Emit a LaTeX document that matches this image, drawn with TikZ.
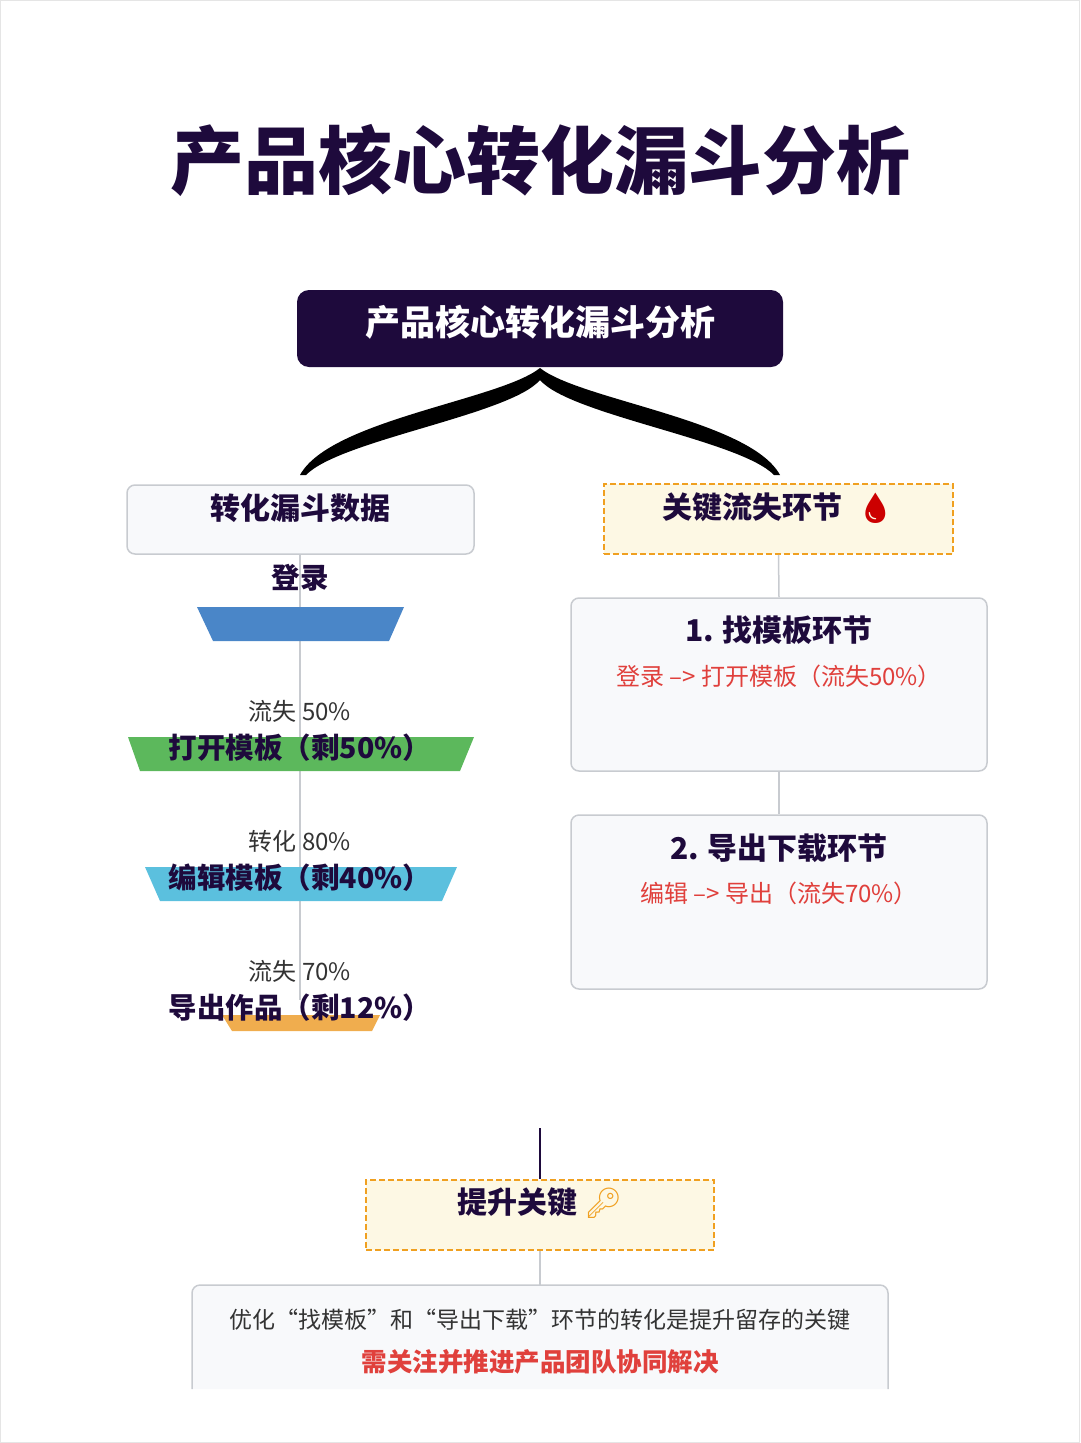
\documentclass[tikz,border=0pt]{standalone}
\usepackage{fontspec}
\setmainfont{Noto Sans CJK SC}
\newfontfamily\emj{Noto Emoji}
\definecolor{navy}{HTML}{1E0A3C}
\definecolor{boxfill}{HTML}{F8F9FB}
\definecolor{boxline}{HTML}{C8CBD0}
\definecolor{yel}{HTML}{FDF8E4}
\definecolor{org}{HTML}{F0A020}
\definecolor{redt}{HTML}{E0403C}
\definecolor{txt}{HTML}{333333}
\tikzset{
 gbox/.style={draw=boxline,line width=1.5pt,fill=boxfill,rounded corners=8pt},
 ybox/.style={draw=org,line width=1.5pt,dash pattern=on 6pt off 3pt,fill=yel},
 gline/.style={draw=boxline,line width=1.5pt},
 lbl/.style={font=\fontsize{24}{28}\selectfont,text=txt},
 stg/.style={font=\fontsize{28.5}{34}\selectfont\bfseries,text=navy},
 hd/.style={font=\fontsize{30}{34}\selectfont\bfseries,text=navy},
}
\begin{document}
\begin{tikzpicture}[x=1pt,y=-1pt]
\useasboundingbox (0,0) rectangle (1080,1443);
\draw[draw=black!10] (0.5,0.5) rectangle (1079.5,1442.5);
\node[font=\fontsize{74}{80}\selectfont\bfseries,text=navy] (title) at (540,160) {产品核心转化漏斗分析};
\node[fill=navy,rounded corners=12pt,minimum width=486pt,minimum height=77pt] (top) at (540,328.5) {};
\node[text=white,font=\fontsize{35}{40}\selectfont\bfseries] at (540,322) {产品核心转化漏斗分析};
% tapered connectors
\fill[black] (540,368) .. controls (500,400) and (330,420) .. (300,475) -- (306,475) .. controls (340,440) and (510,415) .. (540,380) -- cycle;
\fill[black] (540,368) .. controls (580,400) and (750,420) .. (780,475) -- (774,475) .. controls (740,440) and (570,415) .. (540,380) -- cycle;
% left column
\draw[gline] (300,554) -- (300,1000);
\node[gbox,minimum width=347pt,minimum height=69pt] (lb) at (300.5,519.5) {};
\node[hd] at (300.5,508) {转化漏斗数据};
\node[stg] (s0) at (300,578) {登录};
\fill[fill={rgb,255:red,74;green,134;blue,200}] (197,607) -- (404,607) -- (389,641) -- (213,641) -- cycle;
\node[lbl] (l1) at (300,711) {流失 50\%};
\fill[fill={rgb,255:red,92;green,184;blue,92}] (128,737) -- (474,737) -- (460,771) -- (140,771) -- cycle;
\node[stg] (s1) at (300,748) {打开模板（剩50\%）};
\node[lbl] (l2) at (300,841) {转化 80\%};
\fill[fill={rgb,255:red,91;green,192;blue,222}] (145,867) -- (457,867) -- (442,901) -- (160,901) -- cycle;
\node[stg] (s2) at (300,878) {编辑模板（剩40\%）};
\node[lbl] (l3) at (300,971) {流失 70\%};
\fill[fill={rgb,255:red,240;green,173;blue,78}] (222,1015) -- (380,1015) -- (372,1031) -- (232,1031) -- cycle;
\node[stg] (s3) at (300,1008) {导出作品（剩12\%）};
% right column
\node[ybox,minimum width=349pt,minimum height=70pt] (rk) at (778.5,519) {};
\node[hd] at (778.5,508) {关键流失环节\ \ {\emj\color{red!80!black}🩸}};
\node[gbox,minimum width=416pt,minimum height=173pt] (c1) at (779,684.5) {};
\node[gbox,minimum width=416pt,minimum height=174pt] (c2) at (779,902) {};
\draw[gline] (rk.south) -- (c1.north);
\draw[gline] (c1.south) -- (c2.north);
\node[hd] at (779,630) {1. 找模板环节};
\node[lbl,text=redt] at (779,676) {登录 –> 打开模板（流失50\%）};
\node[hd] at (779,848) {2. 导出下载环节};
\node[lbl,text=redt] at (779,893) {编辑 –> 导出（流失70\%）};
% bottom
\coordinate (b0) at (540,1128);
\node[ybox,minimum width=348pt,minimum height=70pt] (key) at (540,1215) {};
\node[hd] at (540,1203) {提升关键\ {\emj\color{org}🔑}};
\draw[draw=navy,line width=2.5pt] (b0) -- (key.north);
\draw[draw=boxline,line width=1.5pt,fill=boxfill,rounded corners=8pt] (192,1389) -- (192,1285) -- (888,1285) -- (888,1389);
\coordinate (bt) at (540,1285);
\draw[gline] (key.south) -- (bt);
\node[font=\fontsize{23}{28}\selectfont,text=txt] at (540,1320) {优化“找模板”和“导出下载”环节的转化是提升留存的关键};
\node[font=\fontsize{25.5}{28}\selectfont\bfseries,text=redt] at (540,1362) {需关注并推进产品团队协同解决};
\end{tikzpicture}
\end{document}
